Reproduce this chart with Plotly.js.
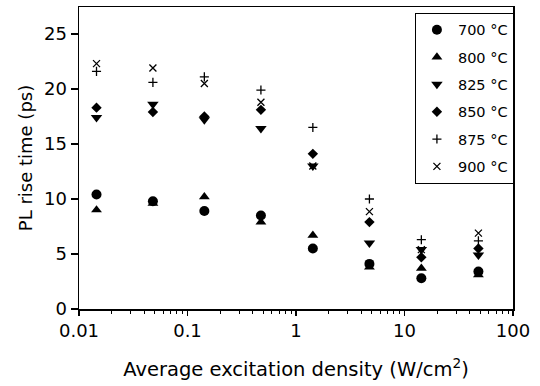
<!DOCTYPE html>
<html>
<head>
<meta charset="utf-8">
<script src="https://cdn.plot.ly/plotly-3.0.1.min.js"></script>
<style>html,body{margin:0;padding:0;background:#fff;}#chart{width:540px;height:386px;}</style>
</head>
<body>
<div id="chart"></div>
<script>
var density = [0.0145, 0.048, 0.143, 0.475, 1.43, 4.75, 14.3, 48];
var t700 = [10.4, 9.8, 8.9, 8.5, 5.5, 4.1, 2.8, 3.4];
var t800 = [9.0, 9.6, 10.2, 7.9, 6.7, 3.8, 3.7, 3.1];
var t825 = [17.4, 18.6, 17.2, 16.4, 13.0, 6.0, 5.4, 4.9];
var t850 = [18.3, 17.9, 17.5, 18.1, 14.1, 7.9, 4.7, 5.5];
var t875 = [21.6, 20.6, 21.1, 19.9, 16.5, 10.0, 6.3, 6.2];
var t900 = [22.3, 21.9, 20.5, 18.8, 13.0, 8.85, 5.4, 6.9];
var seriesNames = ["700 °C", "800 °C", "825 °C", "850 °C", "875 °C", "900 °C"];
var xTickVals = [0.01, 0.1, 1, 10, 100];
var xTickText = ["0.01", "0.1", "1", "10", "100"];
var yTickVals = [0, 5, 10, 15, 20, 25];

var seriesData = [t700, t800, t825, t850, t875, t900];
var symbols = ["circle", "triangle-up", "triangle-down", "diamond", "cross-thin-open", "x-thin-open"];
var sizes = [10, 9.5, 10, 8, 6.5, 7];

var traces = seriesData.map(function (ys, i) {
  var thin = symbols[i].indexOf("thin") >= 0;
  return {
    x: density, y: ys, type: "scatter", mode: "markers",
    name: seriesNames[i], legendgroup: "g" + i,
    marker: {symbol: symbols[i], size: sizes[i], color: "#000",
      line: {color: "#000", width: thin ? 1.3 : 0}}
  };
});

var minorVals = [];
for (var d = -2; d < 2; d++) {
  for (var k = 2; k <= 9; k++) minorVals.push(k * Math.pow(10, d));
}

var layout = {
  width: 540, height: 386,
  margin: {l: 79, r: 27, t: 7, b: 77},
  paper_bgcolor: "#fff", plot_bgcolor: "#fff",
  font: {family: "DejaVu Sans, sans-serif", size: 18, color: "#000"},
  showlegend: true,
  legend: {x: 0.774, y: 0.981, xanchor: "left", yanchor: "top",
    bordercolor: "#000", borderwidth: 1, bgcolor: "#fff",
    font: {size: 14.5}, tracegroupgap: 5.5, itemwidth: 32},
  xaxis: {
    type: "log", range: [-2, 2],
    tickvals: xTickVals, ticktext: xTickText,
    ticks: "outside", ticklen: 5, tickwidth: 1.2, tickcolor: "#000",
    showline: true, linewidth: 1.5, linecolor: "#000", mirror: true,
    showgrid: false, zeroline: false,
    minor: {tickvals: minorVals, ticks: "outside", ticklen: 3, tickwidth: 1, tickcolor: "#000", showgrid: false},
    title: {text: "Average excitation density (W/cm<sup>2</sup>)", standoff: 22, font: {size: 19.5}}
  },
  yaxis: {
    range: [0, 27.45],
    tickvals: yTickVals,
    ticks: "outside", ticklen: 7, tickwidth: 1.2, tickcolor: "#000",
    showline: true, linewidth: 1.5, linecolor: "#000", mirror: true,
    showgrid: false, zeroline: false,
    title: {text: "PL rise time (ps)", standoff: 6, font: {size: 18}}
  }
};

Plotly.newPlot("chart", traces, layout, {displayModeBar: false, staticPlot: true});
</script>
</body>
</html>
